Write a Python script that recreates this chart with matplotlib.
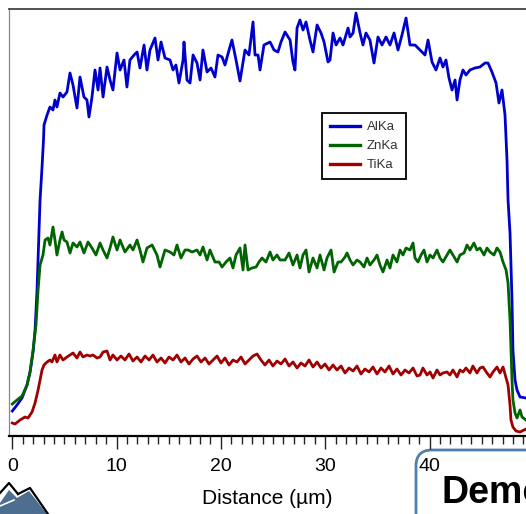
import matplotlib
matplotlib.use('Agg')
import matplotlib.pyplot as plt
from matplotlib.ticker import MultipleLocator
from matplotlib.patches import FancyBboxPatch, Polygon

plt.rcParams['font.family'] = ['Liberation Sans', 'DejaVu Sans']

# ---------------- data (distance in µm, intensity in counts) ----------------
al_x = [0.00, 0.45, 0.93, 1.41, 1.70, 1.99, 2.18, 2.37, 2.47, 2.66, 2.85, 2.99, 3.04, 3.33, 3.61,
        3.90, 4.09, 4.28, 4.57, 4.86, 5.24, 5.53, 5.82, 6.20, 6.49, 6.87, 7.16, 7.35, 7.64, 7.93,
        8.22, 8.41, 8.70, 9.08, 9.37, 9.65, 10.04, 10.33, 10.71, 10.99, 11.28, 11.67, 11.96, 12.24,
        12.63, 12.91, 13.20, 13.68, 13.97, 14.26, 14.64, 15.12, 15.41, 15.69, 15.98, 16.37, 16.46,
        16.75, 17.04, 17.33, 17.71, 18.00, 18.28, 18.67, 19.05, 19.43, 19.72, 20.11, 20.39, 20.78,
        21.06, 21.45, 21.83, 22.31, 22.69, 23.08, 23.27, 23.56, 23.75, 24.13, 24.71, 25.09, 25.47,
        25.76, 26.15, 26.63, 26.91, 27.10, 27.30, 27.58, 27.87, 28.16, 28.54, 28.83, 29.22, 29.60,
        29.89, 30.27, 30.46, 30.75, 31.04, 31.42, 31.71, 32.19, 32.38, 32.67, 32.95, 33.34, 33.62,
        33.91, 34.29, 34.68, 35.06, 35.45, 35.83, 36.21, 36.60, 36.98, 37.36, 37.75, 38.13, 38.61,
        39.09, 39.57, 39.86, 40.24, 40.62, 41.01, 41.29, 41.58, 41.87, 42.16, 42.45, 42.64, 42.92,
        43.21, 43.50, 43.88, 44.36, 44.84, 45.32, 45.61, 45.99, 46.38, 46.66, 46.95, 47.24, 47.43,
        47.53, 47.72, 47.91, 48.00, 48.20, 48.39, 48.68, 49.25]
al_y = [25, 31, 38, 51, 64, 84, 106, 146, 176, 236, 269, 296, 311, 321, 329,
        326, 336, 329, 343, 339, 344, 363, 351, 328, 359, 339, 336, 319, 339, 366,
        346, 368, 339, 369, 356, 346, 383, 366, 376, 349, 376, 381, 384, 368,
        391, 366, 386, 398, 376, 394, 378, 376, 366, 371, 353, 376, 394,
        356, 353, 381, 373, 356, 386, 364, 368, 359, 381, 379, 371, 386,
        396, 376, 355, 386, 381, 414, 381, 381, 366, 391, 394, 386, 384,
        394, 404, 396, 374, 366, 408, 416, 406, 414, 396, 384, 411, 403,
        394, 374, 376, 403, 391, 398, 391, 408, 399, 403, 423, 403, 391,
        403, 396, 373, 399, 391, 399, 391, 403, 386, 401, 418, 391, 391,
        386, 381, 396, 374, 366, 378, 369, 376, 358, 346, 356, 336, 356,
        366, 361, 366, 368, 369, 373, 373, 364, 353, 333, 346, 321, 276,
        236, 203, 136, 86, 56, 46, 39, 38]

zn_x = [0.00, 0.45, 0.93, 1.41, 1.70, 1.99, 2.27, 2.47, 2.66, 2.94, 3.14, 3.42, 3.61, 3.90, 4.09,
        4.28, 4.57, 4.77, 4.96, 5.24, 5.53, 5.82, 6.20, 6.49, 6.87, 7.26, 7.64, 8.02, 8.41, 8.70,
        9.08, 9.37, 9.65, 10.04, 10.33, 10.80, 11.28, 11.57, 11.96, 12.24, 12.53, 12.91, 13.40,
        13.87, 14.16, 14.64, 15.12, 15.50, 15.79, 16.17, 16.56, 16.85, 17.23, 17.71, 18.00, 18.28,
        18.67, 18.95, 19.43, 19.82, 20.11, 20.49, 20.87, 21.16, 21.45, 21.83, 22.12, 22.31, 22.60,
        22.98, 23.37, 23.65, 23.94, 24.32, 24.71, 24.99, 25.38, 25.67, 26.15, 26.53, 26.91, 27.30,
        27.58, 27.87, 28.16, 28.45, 28.83, 29.22, 29.50, 29.89, 30.17, 30.56, 30.85, 31.23, 31.52,
        31.90, 32.09, 32.38, 32.67, 33.05, 33.34, 33.72, 34.01, 34.29, 34.68, 34.97, 35.25, 35.54,
        35.93, 36.21, 36.50, 36.88, 37.17, 37.46, 37.75, 38.13, 38.42, 38.61, 38.90, 39.19, 39.47,
        39.76, 40.05, 40.34, 40.72, 41.01, 41.29, 41.68, 41.96, 42.25, 42.64, 42.92, 43.31, 43.60,
        43.88, 44.26, 44.55, 44.84, 45.23, 45.51, 45.80, 46.18, 46.47, 46.76, 47.05, 47.34, 47.53,
        47.72, 47.81, 47.91, 48.00, 48.20, 48.39, 48.68, 48.87, 49.25]
zn_y = [32, 36, 40, 51, 64, 86, 111, 146, 171, 181, 196, 198, 191, 209, 196,
        181, 196, 204, 196, 194, 183, 193, 189, 194, 183, 194, 188, 181, 193, 186,
        178, 188, 199, 186, 196, 184, 191, 186, 196, 186, 174, 188, 191,
        181, 169, 186, 184, 181, 191, 178, 186, 186, 184, 186, 181, 189,
        176, 186, 174, 174, 169, 174, 178, 168, 181, 188, 166, 191, 166,
        168, 169, 174, 178, 174, 184, 176, 181, 176, 176, 183, 171, 181,
        168, 181, 186, 164, 178, 168, 181, 166, 178, 186, 164, 174, 174,
        179, 183, 176, 171, 176, 174, 169, 178, 171, 176, 181, 171, 164,
        176, 168, 181, 174, 186, 181, 188, 186, 193, 178, 174, 181, 186,
        174, 181, 178, 186, 178, 174, 181, 186, 181, 174, 181, 183, 191,
        186, 193, 186, 188, 181, 188, 184, 181, 188, 184, 174, 166, 153,
        116, 86, 56, 36, 23, 18, 26, 19, 16]

ti_x = [0.00, 0.26, 0.74, 1.22, 1.51, 1.89, 2.18, 2.47, 2.66, 2.85, 3.04, 3.33, 3.61, 3.80, 4.09,
        4.28, 4.57, 4.86, 5.24, 5.53, 5.82, 6.20, 6.49, 6.78, 7.16, 7.45, 7.74, 8.12, 8.41, 8.70,
        9.08, 9.37, 9.65, 10.04, 10.42, 10.80, 11.19, 11.57, 11.96, 12.34, 12.72, 13.11, 13.49,
        13.87, 14.26, 14.64, 15.02, 15.41, 15.79, 16.17, 16.56, 16.94, 17.33, 17.71, 18.09, 18.48,
        18.86, 19.24, 19.63, 20.01, 20.39, 20.78, 21.16, 21.54, 21.93, 22.31, 22.69, 23.08, 23.46,
        23.84, 24.23, 24.61, 24.99, 25.38, 25.76, 26.15, 26.53, 26.91, 27.30, 27.68, 28.06, 28.45,
        28.83, 29.22, 29.60, 29.98, 30.37, 30.75, 31.13, 31.52, 31.90, 32.28, 32.67, 33.05, 33.43,
        33.81, 34.20, 34.58, 34.97, 35.35, 35.73, 36.12, 36.50, 36.88, 37.27, 37.65, 38.03, 38.42,
        38.80, 39.09, 39.37, 39.76, 40.05, 40.34, 40.72, 41.01, 41.29, 41.68, 41.96, 42.25, 42.64,
        42.92, 43.21, 43.50, 43.88, 44.16, 44.55, 44.84, 45.13, 45.51, 45.80, 46.09, 46.47, 46.76,
        47.05, 47.34, 47.53, 47.72, 47.81, 48.00, 48.29, 48.68, 49.06, 49.25]
ti_y = [13, 12, 16, 19, 18, 24, 33, 46, 56, 66, 71, 74, 76, 74, 81,
        74, 81, 76, 79, 81, 83, 78, 84, 79, 81, 80, 81, 78, 79, 84,
        85, 76, 81, 76, 80, 76, 82, 75, 79, 74, 80, 76, 81,
        74, 78, 73, 79, 76, 81, 74, 78, 72, 77, 80, 74, 78,
        72, 76, 80, 73, 78, 71, 76, 74, 79, 72, 76, 80, 82,
        76, 71, 76, 70, 75, 72, 77, 70, 74, 68, 73, 70, 76,
        69, 74, 68, 72, 66, 71, 66, 70, 63, 68, 65, 70, 62,
        67, 64, 69, 62, 68, 64, 70, 62, 67, 61, 66, 63, 68,
        60, 61, 68, 61, 64, 58, 66, 61, 63, 64, 61, 66, 59,
        66, 64, 68, 63, 70, 63, 68, 69, 63, 59, 64, 69, 63,
        69, 58, 51, 31, 16, 9, 5, 4, 6, 7]

series_names = ['AlKa', 'ZnKa', 'TiKa']
x_ticks = [0, 10, 20, 30, 40]
x_label = 'Distance (µm)'

# ---------------- figure ----------------
W, H = 526, 514
fig = plt.figure(figsize=(W / 100, H / 100), dpi=100)
fig.patch.set_facecolor('white')

# decoration layer (slide elements around the chart)
deco = fig.add_axes([0, 0, 1, 1], zorder=0)
deco.set_xlim(0, W)
deco.set_ylim(H, 0)
deco.axis('off')
box = FancyBboxPatch((416, 450), 200, 200, boxstyle='round,pad=0,rounding_size=16',
                     ec='#4f7fae', fc='white', lw=2.0)
deco.add_patch(box)
deco.text(442, 503, 'Demo', fontsize=27, fontweight='bold', color='black',
          ha='left', va='baseline')
deco.add_patch(Polygon([(0, 503), (9, 490), (17, 498), (29, 491), (47, 514), (0, 514)],
                       closed=True, fc='#4d6e8f', ec='none'))
deco.plot([0, 9, 18], [493, 483, 494], color='black', lw=1.6)
deco.plot([18, 30, 48], [494, 488, 514], color='black', lw=1.6)
deco.plot([0, 14], [506, 500], color='white', lw=1.2)

ax = fig.add_axes([9.5 / W, (H - 436) / H, (533.8 - 9.5) / W, (436 - 9) / H], zorder=1)
ax.plot(al_x, al_y, color='#0000cc', lw=2.0, label=series_names[0])
ax.plot(zn_x, zn_y, color='#006400', lw=2.0, label=series_names[1])
ax.plot(ti_x, ti_y, color='#a00000', lw=2.0, label=series_names[2])

ax.set_xlim(-0.27, 50)
ax.set_ylim(0, 427)
ax.set_yticks([])
ax.set_xticks(x_ticks)
ax.xaxis.set_minor_locator(MultipleLocator(1))
ax.tick_params(axis='x', which='major', direction='out', length=9, width=1.0, pad=7,
               labelsize=14, color='#222222', labelcolor='black')
ax.tick_params(axis='x', which='minor', direction='out', length=5.5, width=1.0, color='#222222')
ax.spines['bottom'].set_linewidth(1.6)
ax.spines['bottom'].set_color('black')
ax.spines['top'].set_linewidth(1.3)
ax.spines['top'].set_color('#444444')
ax.spines['left'].set_linewidth(0.9)
ax.spines['left'].set_color('#888888')
ax.spines['right'].set_visible(False)

ax.set_xlabel(x_label, fontsize=15)
ax.xaxis.set_label_coords(0.492, -0.124)

leg = ax.legend(loc='upper left', bbox_to_anchor=(321.7 / W, 1 - 113.3 / H),
                bbox_transform=fig.transFigure, fontsize=9.5, frameon=True, fancybox=False,
                edgecolor='black', handlelength=2.3, borderaxespad=0, labelspacing=0.5,
                borderpad=0.6, handletextpad=0.5, framealpha=1)
leg.get_frame().set_linewidth(1.3)
for line in leg.get_lines():
    line.set_linewidth(2.4)
for t in leg.get_texts():
    t.set_color('#333333')

fig.savefig('out.png', dpi=100, facecolor='white')
